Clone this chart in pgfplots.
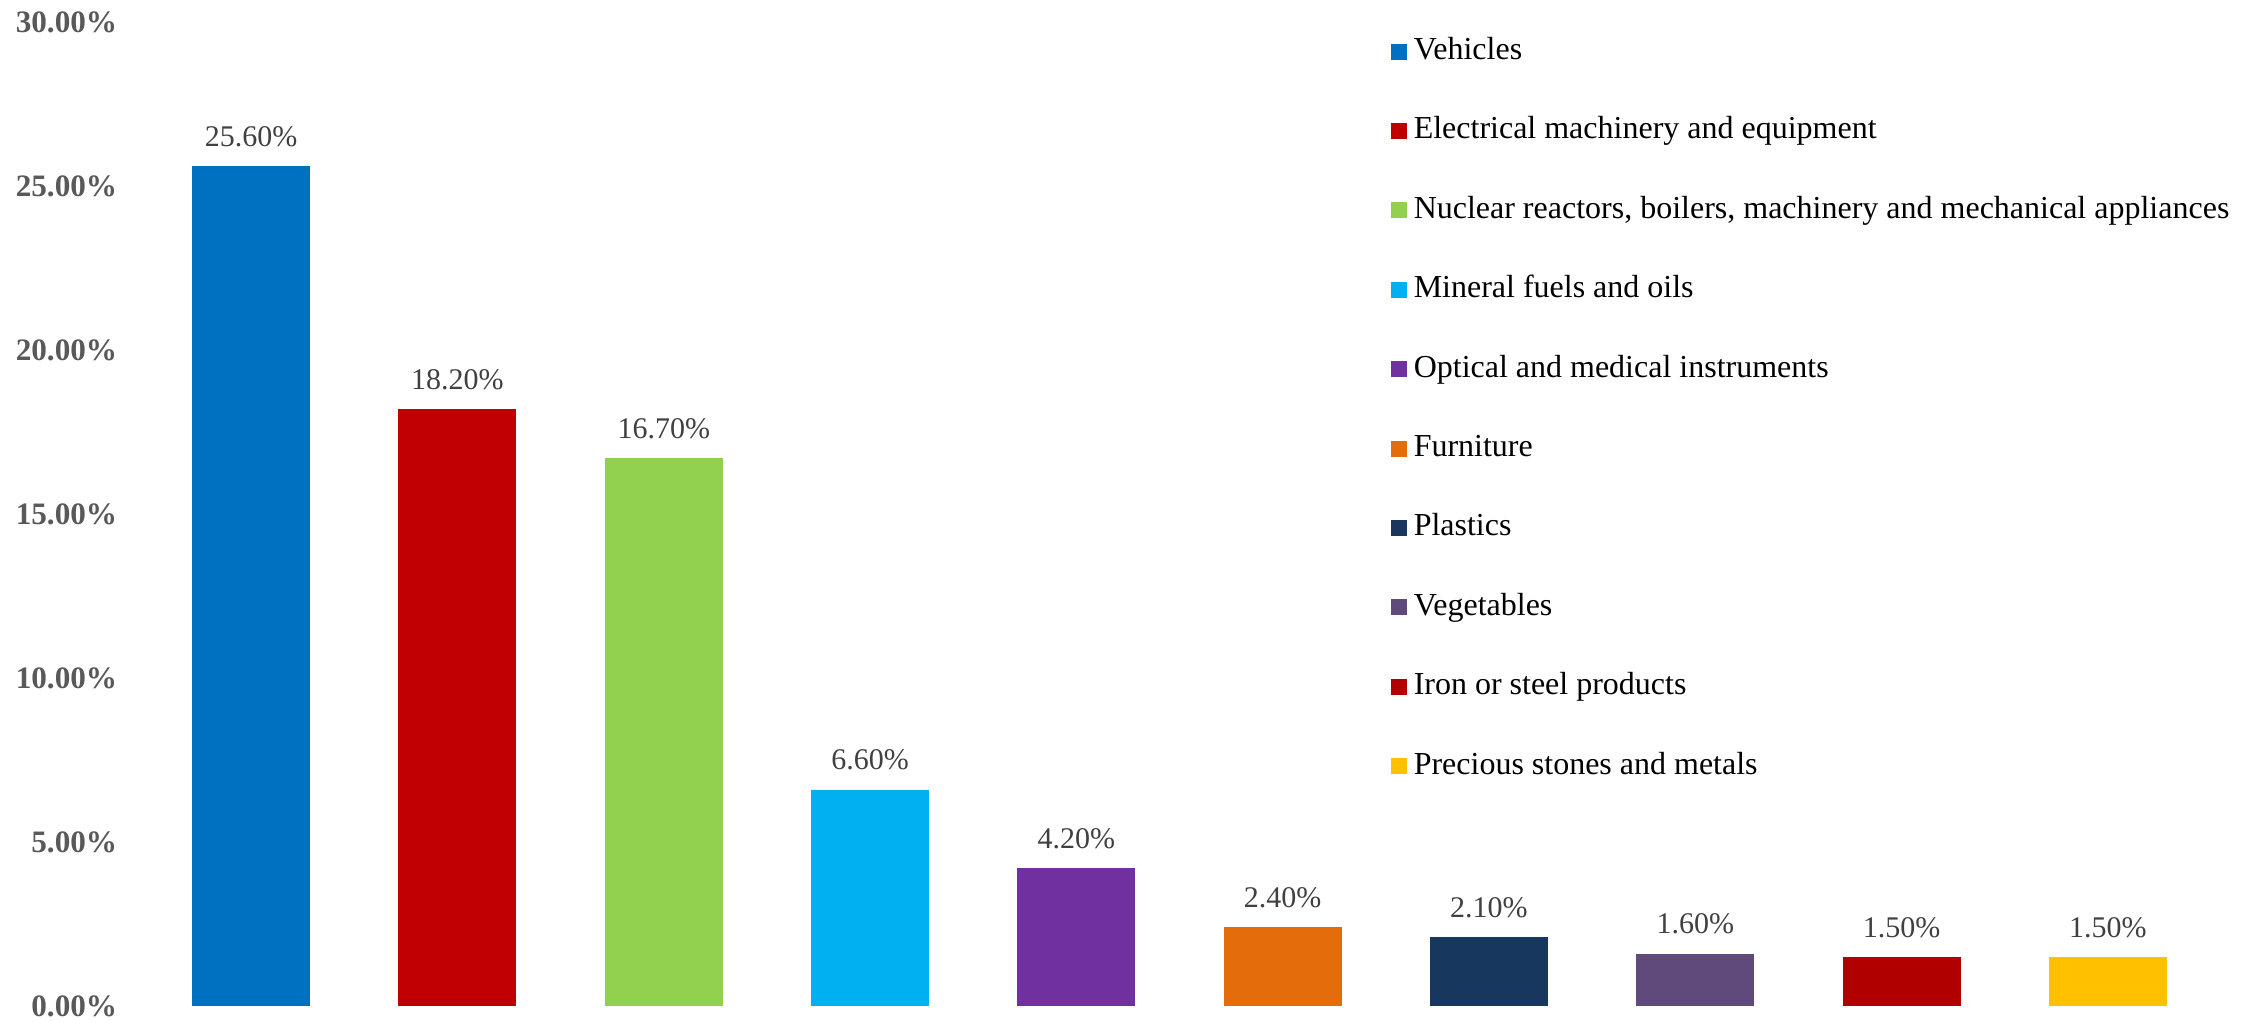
\documentclass[border=0pt]{standalone}
\usepackage{fontspec}
\setmainfont{Liberation Serif}
\usepackage{pgfplots}
\pgfplotsset{compat=1.18}
\definecolor{c1}{HTML}{0070C0}
\definecolor{c2}{HTML}{C00000}
\definecolor{c3}{HTML}{92D050}
\definecolor{c4}{HTML}{00B0F0}
\definecolor{c5}{HTML}{7030A0}
\definecolor{c6}{HTML}{E46C0A}
\definecolor{c7}{HTML}{17375E}
\definecolor{c8}{HTML}{604A7B}
\definecolor{c9}{HTML}{B00000}
\definecolor{c10}{HTML}{FFC000}
\definecolor{tickgray}{HTML}{595959}
\definecolor{labgray}{HTML}{404040}
\begin{document}
\begin{tikzpicture}
\path[use as bounding box] (-37pt,-3.75pt) rectangle (524.5pt,251.5pt);
\begin{axis}[
  at={(0pt,0pt)}, anchor=south west,
  scale only axis, width=515.75pt, height=246pt,
  xmin=-0.5, xmax=9.5, ymin=0, ymax=30,
  ybar, bar width=29.5pt, bar shift=0pt,
  axis line style={draw=none}, major tick length=0pt,
  xtick=\empty,
  ytick={0,5,...,30},
  /pgf/number format/assume math mode=true,
  yticklabel={\pgfmathprintnumber[fixed,fixed zerofill,precision=2]{\tick}\%},
  yticklabel style={font=\fontsize{7.8pt}{9pt}\selectfont\bfseries, text=tickgray, inner sep=0pt, xshift=-7.5pt},
  nodes near coords={\pgfmathprintnumber[fixed,fixed zerofill,precision=2]{\pgfplotspointmeta}\%},
  every node near coord/.append style={font=\fontsize{7.5pt}{9pt}\selectfont, text=labgray, inner sep=0pt, text depth=0pt, yshift=4.75pt, anchor=south},
  legend cell align=left,
  legend image code/.code={\fill[#1] (0pt,-2pt) rectangle (4pt,2pt);},
  legend style={draw=none, fill=none, inner sep=0pt, anchor=north west,
    at={(axis description cs:0.602,0.985)},
    row sep=12.85pt, column sep=1.75pt,
    font=\fontsize{8pt}{9.6pt}\selectfont,
    nodes={inner sep=0pt, text height=5.5pt, text depth=1.5pt}},
]
\addplot[fill=c1, draw=none] coordinates {(0,25.6)};
\addlegendentry{Vehicles}
\addplot[fill=c2, draw=none] coordinates {(1,18.2)};
\addlegendentry{Electrical machinery and equipment}
\addplot[fill=c3, draw=none] coordinates {(2,16.7)};
\addlegendentry{Nuclear reactors, boilers, machinery and mechanical appliances}
\addplot[fill=c4, draw=none] coordinates {(3,6.6)};
\addlegendentry{Mineral fuels and oils}
\addplot[fill=c5, draw=none] coordinates {(4,4.2)};
\addlegendentry{Optical and medical instruments}
\addplot[fill=c6, draw=none] coordinates {(5,2.4)};
\addlegendentry{Furniture}
\addplot[fill=c7, draw=none] coordinates {(6,2.1)};
\addlegendentry{Plastics}
\addplot[fill=c8, draw=none] coordinates {(7,1.6)};
\addlegendentry{Vegetables}
\addplot[fill=c9, draw=none] coordinates {(8,1.5)};
\addlegendentry{Iron or steel products}
\addplot[fill=c10, draw=none] coordinates {(9,1.5)};
\addlegendentry{Precious stones and metals}
\end{axis}
\end{tikzpicture}
\end{document}
